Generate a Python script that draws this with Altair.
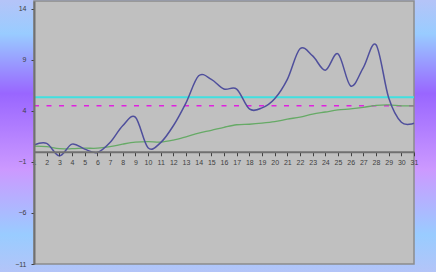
import altair as alt
import pandas as pd

days = list(range(1, 32))
series_blue = [0.66, 0.82, -0.4, 0.75, 0.26, -0.07, 0.9, 2.55, 3.4, 0.4,
               0.9, 2.55, 4.8, 7.45, 7.1, 6.15, 6.15, 4.2, 4.3, 5.2,
               7.1, 10.1, 9.4, 8.0, 9.6, 6.45, 8.25, 10.5, 5.3, 2.9, 2.8]
series_green = [0.55, 0.5, 0.3, 0.3, 0.35, 0.35, 0.5, 0.75, 0.95, 1.0,
                0.95, 1.15, 1.47, 1.83, 2.1, 2.4, 2.65, 2.7, 2.8, 2.95,
                3.2, 3.4, 3.7, 3.9, 4.1, 4.2, 4.35, 4.55, 4.6, 4.5, 4.5]
ref_upper = 5.35
ref_lower = 4.5
y_ticks = [-11, -6, -1, 4, 9, 14]
y_domain = [-11, 14.78]

W, H = 380, 263
FULL_W, FULL_H = 436, 272
LEFT = 34

df = pd.DataFrame({"day": days, "blue": series_blue, "green": series_green})

y_scale = alt.Scale(domain=y_domain, nice=False, zero=False)
x_scale = alt.Scale(domain=[1, 31], nice=False, zero=False)
zero_px = H * (y_domain[1] - 0) / (y_domain[1] - y_domain[0])
x_offset = -(H - zero_px)

axis_font = "Liberation Sans"
x_axis = alt.Axis(values=days, offset=x_offset, title=None, grid=False,
                  domainColor="#707070", domainWidth=2, tickColor="#404040",
                  tickSize=4, tickWidth=1, labelFont=axis_font, labelFontSize=7,
                  labelColor="#404040", labelPadding=3, zindex=1, labelFlush=False,
                  labelOverlap=False)
y_axis = alt.Axis(values=y_ticks, title=None, grid=False,
                  domainColor="#707070", domainWidth=2, tickColor="#404040",
                  tickSize=3, tickWidth=1, labelFont=axis_font, labelFontSize=7,
                  labelColor="#404040", labelPadding=5, zindex=1)

gradient = alt.LinearGradient(
    gradient="linear", x1=0, x2=0, y1=0, y2=1,
    stops=[
        alt.GradientStop(color="#b4c4f8", offset=0),
        alt.GradientStop(color="#99ccff", offset=0.12),
        alt.GradientStop(color="#9966ff", offset=0.34),
        alt.GradientStop(color="#cc99ff", offset=0.62),
        alt.GradientStop(color="#99ccff", offset=0.86),
        alt.GradientStop(color="#b4c4f8", offset=1),
    ],
)

bg = alt.Chart(alt.Data(values=[{}])).mark_rect(fill=gradient).encode(
    x=alt.value(-LEFT), x2=alt.value(FULL_W - LEFT),
    y=alt.value(0), y2=alt.value(FULL_H),
)
plot_bg = alt.Chart(alt.Data(values=[{}])).mark_rect(
    fill="#c0c0c0", stroke="#8c8c8c", strokeWidth=1.5
).encode(
    x=alt.value(0), x2=alt.value(W), y=alt.value(0), y2=alt.value(H),
)

base = alt.Chart(df)
green = base.mark_line(color="#66aa66", strokeWidth=1.3, interpolate="cardinal").encode(
    x=alt.X("day:Q", scale=x_scale, axis=x_axis),
    y=alt.Y("green:Q", scale=y_scale, axis=y_axis),
)
blue = base.mark_line(color="#4f4f9c", strokeWidth=1.5, interpolate="cardinal").encode(
    x=alt.X("day:Q", scale=x_scale, axis=x_axis),
    y=alt.Y("blue:Q", scale=y_scale, axis=y_axis),
)
upper = alt.Chart(pd.DataFrame({"v": [ref_upper]})).mark_rule(
    color="#40e0e0", strokeWidth=2
).encode(y=alt.Y("v:Q", scale=y_scale, axis=y_axis))
lower = alt.Chart(pd.DataFrame({"v": [ref_lower]})).mark_rule(
    color="#e020e0", strokeWidth=1.5, strokeDash=[5, 7.5]
).encode(y=alt.Y("v:Q", scale=y_scale, axis=y_axis))

chart = alt.layer(bg, plot_bg, upper, lower, green, blue).properties(
    width=W, height=H, padding=0
).configure_view(strokeWidth=0).configure(background="#b4c4f8")

chart.save("out.html", embed_options={"renderer": "svg", "actions": False})
